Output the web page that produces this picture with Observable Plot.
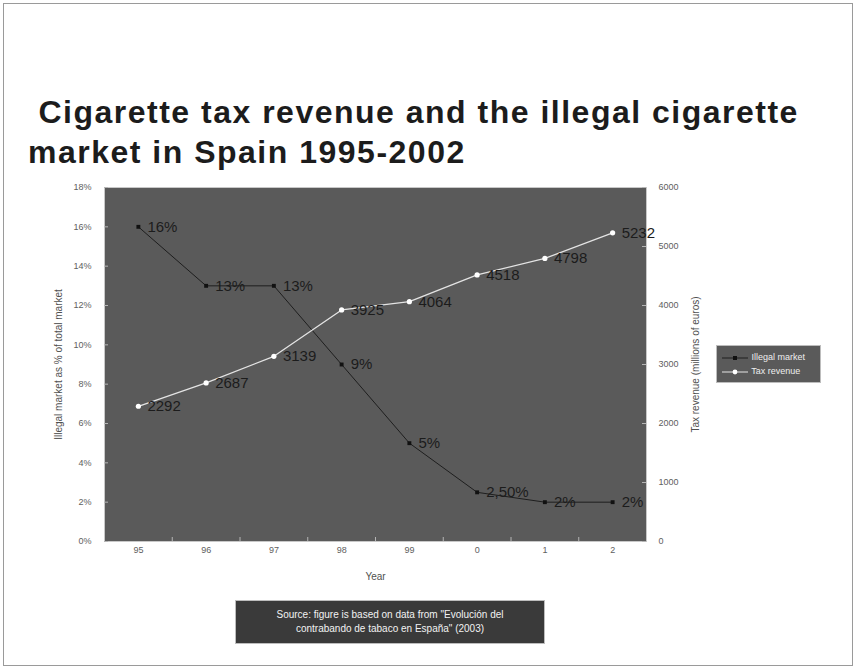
<!DOCTYPE html>
<html>
<head>
<meta charset="utf-8">
<script src="https://cdn.jsdelivr.net/npm/d3@7"></script>
<script src="https://cdn.jsdelivr.net/npm/@observablehq/plot@0.6"></script>
<style>
  html, body { margin: 0; padding: 0; background: #fff; }
  #wrap { position: relative; width: 855px; height: 668px; overflow: hidden; font-family: "Liberation Sans", Arial, sans-serif; }
  #border { position: absolute; left: 3px; top: 3px; width: 848px; height: 661px; border: 1px solid #9a9a9a; }
  #title { position: absolute; left: 28px; top: 92px; font-size: 32px; font-weight: bold; letter-spacing: 1.5px; line-height: 40px; color: #1c1c1c; white-space: pre; }
  #chart { position: absolute; left: 0; top: 170px; }
  #legend { position: absolute; left: 716px; top: 345px; width: 105px; height: 38px; background: #5a5a5a; border: 1px solid #bdbdbd; box-sizing: border-box; font-size: 9px; color: #eee; }
  #legend .row { position: absolute; left: 4px; height: 12px; line-height: 12px; }
  #legend svg { vertical-align: middle; }
  #source { position: absolute; left: 235px; top: 600px; width: 310px; height: 44px; background: #3a3a3a; border: 1px solid #bdbdbd; box-sizing: border-box; color: #f2f2f2; font-size: 10px; line-height: 14px; text-align: center; padding-top: 7px; }
</style>
</head>
<body>
<div id="wrap">
  <div id="border"></div>
  <div id="title"> Cigarette tax revenue and the illegal cigarette<br>market in Spain 1995-2002</div>
  <div id="chart"></div>
  <div id="legend"></div>
  <div id="source">Source: figure is based on data from "Evolución del<br>contrabando de tabaco en España" (2003)</div>
</div>
<script>
// ---- data ----
const years = ["95", "96", "97", "98", "99", "0", "1", "2"];
const illegal = [16, 13, 13, 9, 5, 2.5, 2, 2];
const illegalLabels = ["16%", "13%", "13%", "9%", "5%", "2,50%", "2%", "2%"];
const tax = [2292, 2687, 3139, 3925, 4064, 4518, 4798, 5232];
const leftTicks = [0, 2, 4, 6, 8, 10, 12, 14, 16, 18];
const rightTicks = [0, 1000, 2000, 3000, 4000, 5000, 6000];

const seriesNames = ["Illegal market", "Tax revenue"];

// ---- layout ----
const W = 855, H = 420;
const mL = 104, mR = 209, mT = 17, mB = 49;
const frameW = W - mL - mR, frameH = H - mT - mB;
const taxToY = v => v / 6000 * 18;
const font = '"Liberation Sans", Arial, sans-serif';

const rows = years.map((y, i) => ({i, year: y, ill: illegal[i], illLab: illegalLabels[i], tax: tax[i], taxY: taxToY(tax[i])}));
const bandEdges = d3.range(0.5, years.length - 0.5, 1);

const chart = Plot.plot({
  width: W, height: H,
  marginLeft: mL, marginRight: mR, marginTop: mT, marginBottom: mB,
  style: {fontFamily: font, background: "transparent", overflow: "visible"},
  x: {domain: [-0.5, years.length - 0.5]},
  y: {domain: [0, 18]},
  marks: [
    Plot.frame({fill: "#5a5a5a", stroke: "#c8c8c8", strokeWidth: 1}),
    // inward tick marks
    Plot.ruleY(leftTicks, {stroke: "#b5b5b5", insetRight: frameW - 4}),
    Plot.ruleY(rightTicks.map(taxToY), {stroke: "#b5b5b5", insetLeft: frameW - 4}),
    Plot.ruleX(bandEdges, {stroke: "#b5b5b5", insetTop: frameH - 4}),
    // axes
    Plot.axisY(leftTicks, {anchor: "left", tickSize: 0, tickPadding: 13, tickFormat: d => d + "%", fontSize: 9, fill: "#606060",
      label: "Illegal market as % of total market", labelAnchor: "center", labelOffset: 50, labelArrow: "none"}),
    Plot.axisY(rightTicks.map(taxToY), {anchor: "right", tickSize: 0, tickPadding: 12, tickFormat: d => String(Math.round(d / 18 * 6000)), fontSize: 9, fill: "#606060",
      label: "Tax revenue (millions of euros)", labelAnchor: "center", labelOffset: 52, labelArrow: "none"}),
    Plot.axisX(d3.range(years.length), {tickSize: 0, tickPadding: 5, tickFormat: i => years[i], fontSize: 9, fill: "#606060",
      label: "Year", labelAnchor: "center", labelOffset: 38, labelArrow: "none"}),
    // illegal market series
    Plot.line(rows, {x: "i", y: "ill", stroke: "#1e1e1e", strokeWidth: 1}),
    Plot.dot(rows, {x: "i", y: "ill", symbol: "square", r: 2.2, fill: "#111", stroke: null}),
    Plot.text(rows, {x: "i", y: "ill", text: "illLab", textAnchor: "start", dx: 9, fontSize: 15, fill: "#1c1c1c"}),
    // tax revenue series
    Plot.line(rows, {x: "i", y: "taxY", stroke: "#e4e4e4", strokeWidth: 1.3}),
    Plot.dot(rows, {x: "i", y: "taxY", r: 2.6, fill: "#ffffff", stroke: null}),
    Plot.text(rows, {x: "i", y: "taxY", text: d => String(d.tax), textAnchor: "start", dx: 9, fontSize: 15, fill: "#1c1c1c"})
  ]
});
chart.querySelectorAll("[aria-label='y-axis label'] text, [aria-label='x-axis label'] text").forEach(t => {
  t.setAttribute("fill", "#505050"); t.setAttribute("font-size", "10");
  t.textContent = t.textContent.replace(/\s*[\u2190-\u2193]\s*/g, "").trim();
});
document.getElementById("chart").appendChild(chart);

// legend
const legend = document.getElementById("legend");
const styles = [{stroke: "#1e1e1e", fill: "#111", sq: true}, {stroke: "#e4e4e4", fill: "#fff", sq: false}];
seriesNames.forEach((name, k) => {
  const row = document.createElement("div");
  row.className = "row";
  row.style.top = (5 + k * 14) + "px";
  const s = styles[k];
  const marker = s.sq ? `<rect x="12" y="4" width="4" height="4" fill="${s.fill}"/>` : `<circle cx="14" cy="6" r="2.4" fill="${s.fill}"/>`;
  row.innerHTML = `<svg width="28" height="12"><line x1="1" x2="27" y1="6" y2="6" stroke="${s.stroke}" stroke-width="1"/>${marker}</svg> ${name}`;
  legend.appendChild(row);
});
</script>
</body>
</html>
